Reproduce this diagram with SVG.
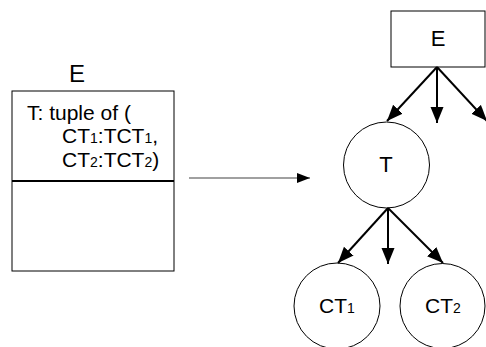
<svg xmlns="http://www.w3.org/2000/svg" width="486" height="347" viewBox="0 0 486 347">
<defs>
<style>
text{font-family:"Liberation Sans",Arial,sans-serif;fill:#000}
.shape{fill:#fff;stroke:#000;stroke-width:1}
.tree{stroke:#000;stroke-width:2;fill:none}
.sub{font-size:14px}
</style>
<marker id="ah" markerUnits="userSpaceOnUse" markerWidth="17" markerHeight="14" refX="16" refY="6.5" orient="auto" viewBox="0 0 17 14">
<path d="M0,0 L16,6.5 L0,13 z" fill="#000"/>
</marker>
<marker id="ah2" markerUnits="userSpaceOnUse" markerWidth="14" markerHeight="11" refX="13" refY="5" orient="auto" viewBox="0 0 14 11">
<path d="M0,0 L13,5 L0,10 z" fill="#000"/>
</marker>
</defs>
<rect width="486" height="347" fill="#fff"/>
<g id="entity-E">
<text x="77" y="82" font-size="24" text-anchor="middle">E</text>
<rect class="shape" x="12" y="91" width="162" height="180"/>
<line x1="12" y1="181" x2="174" y2="181" stroke="#000" stroke-width="2"/>
<text x="27" y="120" font-size="21">T: tuple of (</text>
<text x="62" y="143" font-size="21">CT<tspan class="sub">1</tspan>:TCT<tspan class="sub">1</tspan>,</text>
<text x="62" y="167" font-size="21">CT<tspan class="sub">2</tspan>:TCT<tspan class="sub">2</tspan>)</text>
</g>
<g id="tree-E">
<rect class="shape" x="391" y="11" width="94" height="56"/>
<text x="438" y="46" font-size="22" text-anchor="middle">E</text>
</g>
<g id="tree-T">
<circle class="shape" cx="386.5" cy="165" r="43"/>
<text x="386" y="172" font-size="22" text-anchor="middle">T</text>
</g>
<g id="tree-CT1">
<circle class="shape" cx="337" cy="306" r="43"/>
<text x="337" y="313" font-size="21" text-anchor="middle">CT<tspan class="sub">1</tspan></text>
</g>
<g id="tree-CT2">
<circle class="shape" cx="442.5" cy="306" r="42.5"/>
<text x="443" y="313" font-size="21" text-anchor="middle">CT<tspan class="sub">2</tspan></text>
</g>
<g id="connectors">
<line x1="189" y1="178" x2="310" y2="178" stroke="#808080" stroke-width="1.3" marker-end="url(#ah2)"/>
<line class="tree" x1="437" y1="67" x2="387" y2="121" marker-end="url(#ah)"/>
<line class="tree" x1="437" y1="67" x2="437" y2="123" marker-end="url(#ah)"/>
<line class="tree" x1="437" y1="67" x2="487" y2="121" marker-end="url(#ah)"/>
<line class="tree" x1="388" y1="208" x2="338" y2="263" marker-end="url(#ah)"/>
<line class="tree" x1="388" y1="208" x2="388" y2="264" marker-end="url(#ah)"/>
<line class="tree" x1="388" y1="208" x2="443" y2="263" marker-end="url(#ah)"/>
</g>
</svg>
